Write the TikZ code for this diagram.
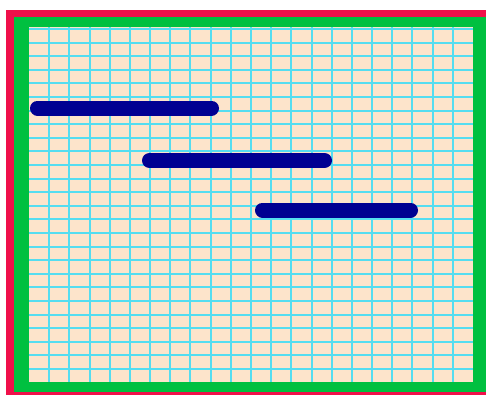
\documentclass[tikz,border=0pt]{standalone}
\definecolor{frred}{HTML}{F0104A}
\definecolor{frgreen}{HTML}{00C040}
\definecolor{peach}{HTML}{FDE4CB}
\definecolor{gridcyan}{HTML}{55DDF0}
\definecolor{barblue}{HTML}{000092}
\tikzset{
  gantbar/.style={line width=15pt, line cap=round, draw=barblue},
  gridln/.style={draw=gridcyan, line width=2pt}
}
\begin{document}
\begin{tikzpicture}[x=1pt,y=-1pt]
\useasboundingbox (0,0) rectangle (486,394);
\fill[white] (0,0) rectangle (486,394);
\fill[frred] (6,10) rectangle (492,400);
\fill[frgreen] (14,17) rectangle (485.5,392);
\fill[peach] (29,27) rectangle (473,382);
\foreach \i in {1,...,21} {
  \draw[gridln] ({29+\i*20.18},27) -- ({29+\i*20.18},382);
}
\foreach \j in {0,...,25} {
  \draw[gridln] (29,{29+\j*13.6}) -- (473,{29+\j*13.6});
}
\coordinate (a1) at (37.5,108);
\coordinate (a2) at (211.5,108);
\coordinate (b1) at (149.5,160.5);
\coordinate (b2) at (324.5,160.5);
\coordinate (c1) at (262.5,210);
\coordinate (c2) at (410.5,210);
\draw[gantbar] (a1) -- (a2);
\draw[gantbar] (b1) -- (b2);
\draw[gantbar] (c1) -- (c2);
\end{tikzpicture}
\end{document}
